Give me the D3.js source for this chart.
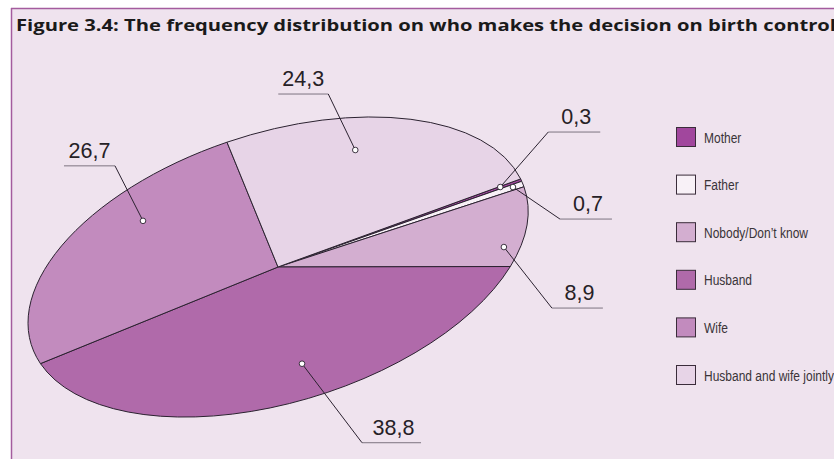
<!DOCTYPE html>
<html>
<head>
<meta charset="utf-8">
<script src="https://cdn.jsdelivr.net/npm/d3@7"></script>
<style>
    html, body { margin: 0; padding: 0; background: #fff; }
    svg { display: block; }
</style>
</head>
<body>
<svg id="chart" width="834" height="459"></svg>
<script>
// data
var title = "Figure 3.4: The frequency distribution on who makes the decision on birth control";
var categories = ["Mother", "Father", "Nobody/Don\u2019t know", "Husband", "Wife", "Husband and wife jointly"];
var values = [0.3, 0.7, 8.9, 38.8, 26.7, 24.3];
var valueLabels = ["0,3", "0,7", "8,9", "38,8", "26,7", "24,3"];

var colors = ["#a1479d", "#f8f1f7", "#d3aed0", "#b06aaa", "#c28bbe", "#e7d4e7"];

// where each callout sits: fraction along the slice, radius, elbow offset, run of the underline
var callouts = {
    "Mother": { at: 0.28, r: 0.915, ex: 48, ey: -55, run: 52 },
    "Father": { at: 0.45, r: 0.96, ex: 47, ey: 32, run: 52 },
    "Nobody/Don\u2019t know": { at: 0.75, r: 0.93, ex: 48, ey: 61, run: 51 },
    "Husband": { at: 0.434, r: 0.74, ex: 60, ey: 79, run: 59 },
    "Wife": { at: 0.66, r: 0.77, ex: -28, ey: -55, run: -51 },
    "Husband and wife jointly": { at: 0.40, r: 0.78, ex: -27, ey: -56, run: -50 }
};

var svg = d3.select("#chart");
var W = 834, H = 459;

// panel
svg.append("rect")
    .attr("x", 11).attr("y", 8)
    .attr("width", W).attr("height", H)
    .attr("fill", "#efe3ee");
svg.append("line")
    .attr("x1", 11).attr("x2", W).attr("y1", 8.5).attr("y2", 8.5)
    .attr("stroke", "#a45c9e").attr("stroke-width", 1.5);
svg.append("line")
    .attr("x1", 11.5).attr("x2", 11.5).attr("y1", 8).attr("y2", H)
    .attr("stroke", "#a45c9e").attr("stroke-width", 1.5);

svg.append("text")
    .attr("x", 16).attr("y", 31)
    .attr("font-family", "'Open Sans', 'Noto Sans', sans-serif")
    .attr("font-weight", "bold")
    .attr("font-size", 16.5)
    .attr("textLength", 820)
    .attr("lengthAdjust", "spacingAndGlyphs")
    .attr("fill", "#1a1a1a")
    .text(title);

// ellipse = a unit pie scaled and tilted
var cx = 278, cy = 267, ra = 258.7, rb = 134.5, tilt = -17.5;
var startDeg = 85.3;
var cosT = Math.cos(tilt * Math.PI / 180), sinT = Math.sin(tilt * Math.PI / 180);

function toScreen(x, y) {
    var sx = ra * x, sy = rb * y;
    return [cx + sx * cosT - sy * sinT, cy + sx * sinT + sy * cosT];
}

var pie = d3.pie()
    .sort(null)
    .value(function (d) { return d.value; })
    .startAngle(startDeg * Math.PI / 180)
    .endAngle(startDeg * Math.PI / 180 + 2 * Math.PI);

var rows = categories.map(function (c, i) {
    return { name: c, value: values[i], label: valueLabels[i], color: colors[i] };
});
var arcs = pie(rows);

var arc = d3.arc().innerRadius(0).outerRadius(1);

var gPie = svg.append("g")
    .attr("transform", "translate(" + cx + "," + cy + ") rotate(" + tilt + ") scale(" + ra + "," + rb + ")");

gPie.selectAll("path.slice")
    .data(arcs)
    .enter().append("path")
    .attr("class", "slice")
    .attr("d", arc)
    .attr("fill", function (d) { return d.data.color; })
    .attr("stroke", "#2b2230")
    .attr("stroke-width", 1)
    .attr("stroke-linejoin", "round")
    .attr("vector-effect", "non-scaling-stroke");

// callouts
var gLab = svg.append("g");
arcs.forEach(function (d) {
    var c = callouts[d.data.name];
    var ang = d.startAngle + c.at * (d.endAngle - d.startAngle);
    var p = toScreen(c.r * Math.sin(ang), -c.r * Math.cos(ang));
    var elbow = [p[0] + c.ex, p[1] + c.ey];
    var end = [elbow[0] + c.run, elbow[1]];

    gLab.append("line")
        .attr("x1", elbow[0]).attr("y1", elbow[1])
        .attr("x2", end[0]).attr("y2", end[1])
        .attr("stroke", "#7d7480").attr("stroke-width", 1);
    gLab.append("line")
        .attr("x1", p[0]).attr("y1", p[1])
        .attr("x2", elbow[0]).attr("y2", elbow[1])
        .attr("stroke", "#2b2230").attr("stroke-width", 1);
    gLab.append("circle")
        .attr("cx", p[0]).attr("cy", p[1]).attr("r", 2.8)
        .attr("fill", "#fff")
        .attr("stroke", "#2b2230").attr("stroke-width", 0.9);
    gLab.append("text")
        .attr("x", (elbow[0] + end[0]) / 2 + (c.run > 0 ? 2 : 0))
        .attr("y", elbow[1] - 8)
        .attr("text-anchor", "middle")
        .attr("font-family", "'Liberation Sans', Arial, sans-serif")
        .attr("font-size", 21.5)
        .attr("fill", "#262126")
        .text(d.data.label);
});

// legend
var ly = d3.scalePoint().domain(categories).range([137, 375]);

var legend = svg.selectAll(".legend")
    .data(rows)
    .enter().append("g")
    .attr("class", "legend")
    .attr("transform", function (d) { return "translate(676," + ly(d.name) + ")"; });

legend.append("rect")
    .attr("x", 0.5).attr("y", -9.5)
    .attr("width", 19).attr("height", 19)
    .attr("fill", function (d) { return d.color; })
    .attr("stroke", "#3a2c3a").attr("stroke-width", 1);

// no narrow face installed, so squeeze the regular one
legend.append("text")
    .attr("transform", "translate(28,5.5) scale(0.8,1)")
    .attr("font-family", "'Liberation Sans', Arial, sans-serif")
    .attr("font-size", 15)
    .attr("fill", "#3a3438")
    .text(function (d) { return d.name; });
</script>
</body>
</html>
